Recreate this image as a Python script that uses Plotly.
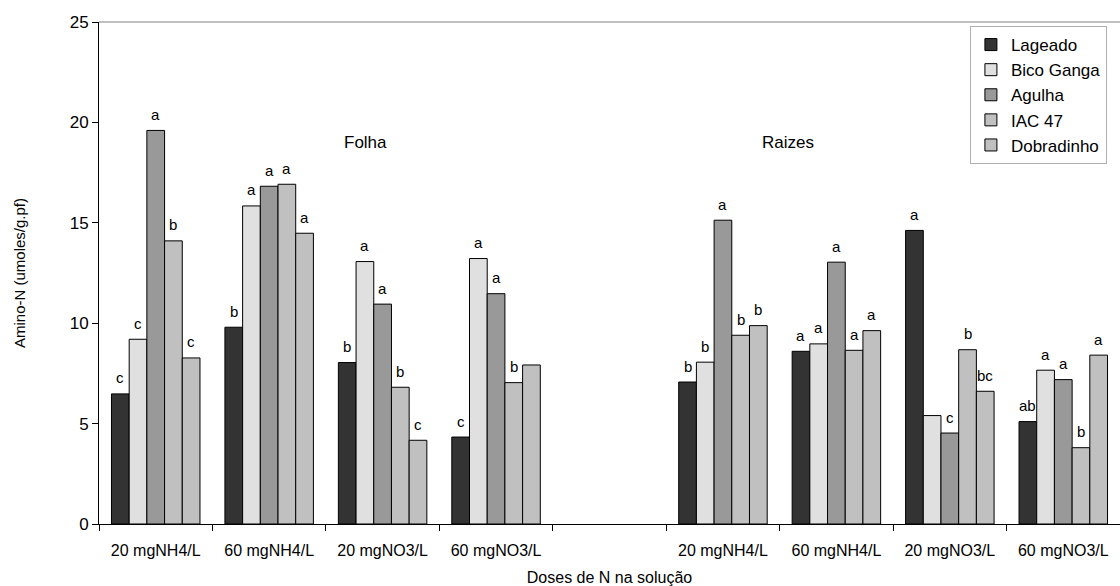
import plotly.graph_objects as go

categories = ["20 mgNH4/L", "60 mgNH4/L", "20 mgNO3/L", "60 mgNO3/L", "",
              "20 mgNH4/L", "60 mgNH4/L", "20 mgNO3/L", "60 mgNO3/L"]
series_names = ["Lageado", "Bico Ganga", "Agulha", "IAC 47", "Dobradinho"]

lageado    = [6.48, 9.80, 8.04, 4.33, None, 7.07, 8.60, 14.62, 5.10]
bico_ganga = [9.20, 15.84, 13.07, 13.22, None, 8.06, 8.97, 5.40, 7.66]
agulha     = [19.60, 16.82, 10.95, 11.47, None, 15.13, 13.04, 4.53, 7.19]
iac_47     = [14.10, 16.92, 6.81, 7.04, None, 9.40, 8.65, 8.68, 3.80]
dobradinho = [8.27, 14.48, 4.17, 7.92, None, 9.88, 9.63, 6.61, 8.41]

letters_lageado    = ["c", "b", "b", "c", "", "b", "a", "a", "ab"]
letters_bico_ganga = ["c", "a", "a", "a", "", "b", "a", "", "a"]
letters_agulha     = ["a", "a", "a", "a", "", "a", "a", "c", "a"]
letters_iac_47     = ["b", "a", "b", "b", "", "b", "a", "b", "b"]
letters_dobradinho = ["c", "a", "c", "", "", "b", "a", "bc", "a"]

group_titles = ["Folha", "Raizes"]
y_ticks = [0, 5, 10, 15, 20, 25]

values = [lageado, bico_ganga, agulha, iac_47, dobradinho]
letters = [letters_lageado, letters_bico_ganga, letters_agulha, letters_iac_47, letters_dobradinho]
colors = ["#333333", "#e0e0e0", "#999999", "#c0c0c0", "#c0c0c0"]

FONT = "Liberation Sans, Arial, sans-serif"
xs = list(range(len(categories)))
BARGAP = 0.22
nser = len(series_names)
bw = (1 - BARGAP) / nser

fig = go.Figure()
for name, vals, col in zip(series_names, values, colors):
    fig.add_trace(go.Bar(
        x=xs, y=vals, name=name,
        marker=dict(color=col, line=dict(color="#000000", width=1)),
    ))

annotations = []
for j, (vals, labs) in enumerate(zip(values, letters)):
    for i, (v, t) in enumerate(zip(vals, labs)):
        if v is None or not t:
            continue
        annotations.append(dict(
            x=i + (j - (nser - 1) / 2) * bw, y=v, xref="x", yref="y",
            text=t, showarrow=False, yanchor="middle", yshift=16,
            font=dict(family=FONT, size=15, color="#000000"),
        ))

annotations.append(dict(x=1.85, y=19.0, xref="x", yref="y", text=group_titles[0],
                        showarrow=False, font=dict(family=FONT, size=17, color="#000000")))
annotations.append(dict(x=5.57, y=19.0, xref="x", yref="y", text=group_titles[1],
                        showarrow=False, font=dict(family=FONT, size=17, color="#000000")))

fig.update_layout(
    width=1120, height=586,
    margin=dict(l=99, r=0, t=22, b=62),
    paper_bgcolor="white", plot_bgcolor="white",
    barmode="group", bargap=BARGAP, bargroupgap=0,
    font=dict(family=FONT, size=15, color="#000000"),
    showlegend=True,
    legend=dict(
        x=0.853, y=0.992, xanchor="left", yanchor="top",
        bgcolor="white", bordercolor="#b0b0b0", borderwidth=1,
        font=dict(family=FONT, size=17, color="#000000"),
        tracegroupgap=0, itemwidth=30,
    ),
    annotations=annotations,
    shapes=[dict(type="line", xref="paper", yref="paper", x0=0, x1=1, y0=1, y1=1,
                 line=dict(color="#808080", width=1))],
    xaxis=dict(
        range=[-0.5, len(categories) - 0.5],
        tickvals=xs, ticktext=categories,
        ticks="outside", ticklen=12, tickcolor="rgba(0,0,0,0)",
        tickfont=dict(family=FONT, size=16, color="#000000"),
        showline=True, linecolor="#000000", linewidth=1,
        showgrid=False, zeroline=False,
        minor=dict(tickvals=[k - 0.5 for k in range(len(categories) + 1)],
                   ticks="outside", ticklen=6, tickcolor="#000000", showgrid=False),
        title=dict(text="Doses de N na solução",
                   font=dict(family=FONT, size=16, color="#000000"), standoff=14),
    ),
    yaxis=dict(
        range=[0, 25], tickvals=y_ticks,
        ticks="outside", ticklen=6, tickcolor="#000000",
        tickfont=dict(family=FONT, size=17, color="#000000"),
        showline=True, linecolor="#000000", linewidth=1,
        showgrid=False, zeroline=False,
        title=dict(text="Amino-N (umoles/g.pf)",
                   font=dict(family=FONT, size=15, color="#000000"), standoff=40),
    ),
)

fig.write_html("out.html")
